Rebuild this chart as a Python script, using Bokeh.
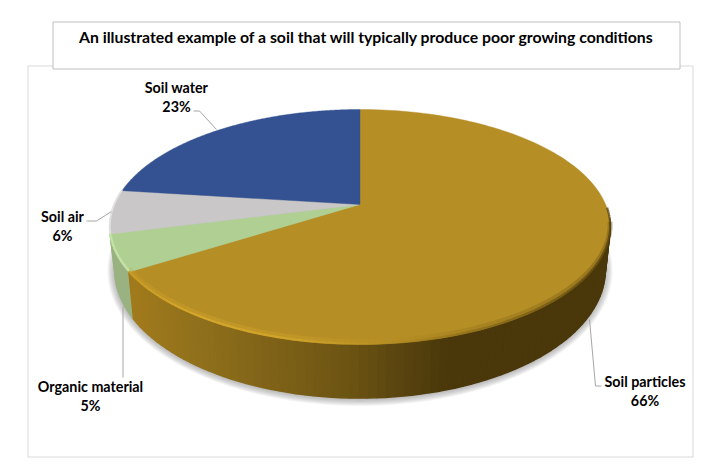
import numpy as np
from bokeh.plotting import figure
from bokeh.models import ColumnDataSource
from bokeh.core.properties import value
from bokeh.embed import file_html
from bokeh.resources import INLINE

# ---- data ----
categories = ["Soil particles", "Organic material", "Soil air", "Soil water"]
shares = [66, 5, 6, 23]
percent_labels = ["66%", "5%", "6%", "23%"]
title_text = "An illustrated example of a soil that will typically produce poor growing conditions"

# ---- styles ----
top_colors = ["#b68e26", "#afd092", "#c9c7c7", "#345291"]
FONT = value("Lato")

# ---- layout: the scales are page pixels ----
CX, CY, RX, RY, K = 359.5, 204.0, 245.6, 113.2, 0.1915
p = figure(width=696, height=464, x_range=(0, 696), y_range=(464, 0),
           output_backend="svg", toolbar_location=None, min_border=0,
           outline_line_color=None, background_fill_color="white")
p.axis.visible = False
p.grid.visible = False


def rim(theta):
    """Top rim: angle clockwise from 12 o'clock, seen in perspective."""
    u, v = np.sin(theta), np.cos(theta)
    w = 1 + K * v
    return CX + RX * u / w, CY - RY * v / w


def lower(x, y):
    """Matching point on the lower rim of the disc."""
    return CX + 0.98 * (x - CX), 22.6 + 1.09 * y


# frames
p.quad(left=[27.5], right=[692.5], top=[65.5], bottom=[456.5], fill_color="white",
       line_color="#d9d9d9", line_width=1)
p.quad(left=[52.5], right=[679.5], top=[21.5], bottom=[68.5], fill_color="white",
       line_color="#bfbfbf", line_width=1)

edges = np.cumsum([0] + shares) / sum(shares) * 2 * np.pi

# soft shadow beneath the disc
full = np.linspace(0, 2 * np.pi, 241)
fx, fy = lower(*rim(full))
for grow in np.linspace(1.055, 1.003, 10):
    sx = CX + (fx - CX) * (1 + (grow - 1) * 0.55)
    sy = 272 + (fy - 272) * grow + 1
    p.patch(sx, sy, fill_color="#707070", fill_alpha=0.06, line_color=None)

# wall in strips, shaded from left to right
wall_x = [120, 135, 200, 280, 352, 400, 450, 620]
wall_r = [160, 160, 143, 125, 107, 90, 74, 74]
wall_g = [122, 122, 112, 97, 83, 69, 56, 56]
wall_b = [28, 28, 28, 24, 19, 16, 11, 11]


def wall_colour(x):
    return "#%02x%02x%02x" % (int(np.interp(x, wall_x, wall_r)),
                              int(np.interp(x, wall_x, wall_g)),
                              int(np.interp(x, wall_x, wall_b)))


def strips(start, stop, step, colour):
    n = max(2, int((stop - start) / step))
    th = np.linspace(start, stop, n + 1)
    xs, ys, cs = [], [], []
    for a, b in zip(th[:-1], th[1:]):
        x0, y0 = rim(np.array([a, b]))
        x1, y1 = lower(x0, y0)
        xs.append([x0[0], x0[1], x1[1], x1[0]])
        ys.append([y0[0], y0[1], y1[1], y1[0]])
        cs.append(colour(x0.mean()))
    p.patches(xs, ys, fill_color=cs, line_color=cs, line_width=1.5)


strips(edges[2], edges[3], 0.03, lambda x: "#d4d4d4")
strips(edges[1], edges[2], 0.03, lambda x: "#9ab281")
strips(np.radians(97), edges[1], 0.03, wall_colour)

# top face
xs, ys = [], []
for a, b in zip(edges[:-1], edges[1:]):
    th = np.linspace(a, b, 160)
    x, y = rim(th)
    xs.append(np.r_[CX, x])
    ys.append(np.r_[CY, y])
src = ColumnDataSource(dict(xs=xs, ys=ys, colour=top_colors, name=categories))
p.patches("xs", "ys", source=src, fill_color="colour", line_color="colour", line_width=0.4)

# bevel along the front of the top face
hi_x = [125, 200, 300, 400, 470, 560, 610]
hi_r = [205, 222, 214, 176, 140, 105, 80]
hi_g = [160, 174, 168, 138, 110, 82, 60]
hi_b = [40, 46, 44, 34, 26, 18, 12]


def bevel(start, stop, colour, width, alpha, lift):
    th = np.linspace(start, stop, int((stop - start) / 0.02) + 2)
    x, y = rim(th)
    cx = (x[:-1] + x[1:]) / 2
    cs = [colour(c) for c in cx]
    p.multi_line([list(x[i:i + 2]) for i in range(len(cx))],
                 [list(y[i:i + 2] - lift) for i in range(len(cx))],
                 line_color=cs, line_width=width, line_alpha=alpha)


def bevel_gold(x):
    return "#%02x%02x%02x" % (int(np.interp(x, hi_x, hi_r)),
                              int(np.interp(x, hi_x, hi_g)),
                              int(np.interp(x, hi_x, hi_b)))


bevel(np.radians(100), edges[1], bevel_gold, 5.0, 0.3, 3.0)
bevel(np.radians(92), edges[1], bevel_gold, 2.2, 0.75, 0.9)
bevel(edges[1], edges[2], lambda x: "#c6e6a8", 2.5, 0.9, 1.2)
bevel(edges[2], edges[3], lambda x: "#e4e4e4", 2.0, 0.9, 0.6)

# leader lines
p.line([193, 199, 216], [110.5, 110.5, 129], line_color="#a6a6a6", line_width=1)
p.line([86, 96, 111], [220.5, 220.5, 211], line_color="#a6a6a6", line_width=1)
p.line([122.5, 122.5], [377, 306], line_color="#a6a6a6", line_width=1)
p.line([589, 595, 601], [319, 385.5, 385.5], line_color="#a6a6a6", line_width=1)

# labels
label_x = [644.5, 90, 62, 176]
name_y = [380.7, 386.2, 215.7, 86.7]
pct_y = [399.7, 405.2, 234.7, 105.7]
p.text(label_x, name_y, text=categories, text_font=FONT, text_font_style="bold",
       text_font_size="14.3px", text_color="black", text_align="center", text_baseline="middle")
p.text(label_x, pct_y, text=percent_labels, text_font=FONT, text_font_style="bold",
       text_font_size="14.3px", text_color="black", text_align="center", text_baseline="middle")
p.text([366], [35.5], text=[title_text], text_font=FONT, text_font_style="bold",
       text_font_size="15.8px", text_color="black", text_align="center", text_baseline="middle")

open("out.html", "w").write(file_html(p, INLINE))
